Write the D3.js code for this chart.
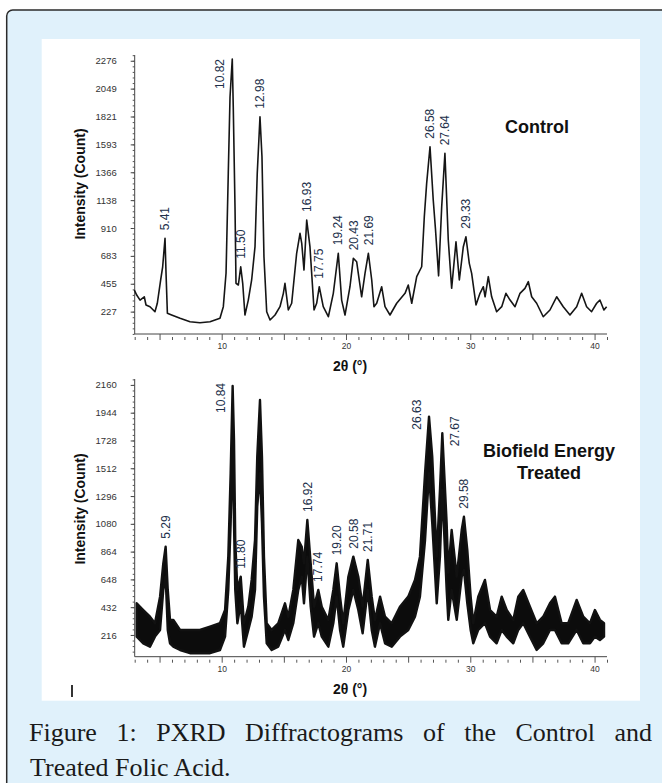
<!DOCTYPE html>
<html>
<head>
<meta charset="utf-8">
<script src="https://cdn.jsdelivr.net/npm/d3@7"></script>
<style>
body { margin: 0; background: #fff; }
svg { display: block; }
.tick text { font-family: "Liberation Sans", Arial, sans-serif; fill: #333; }
</style>
</head>
<body>
<script>
var width = 662,
    height = 783

// tick labels as printed on the figure
var controlTickLabels = ['227', '455', '683', '910', '1138', '1366', '1593', '1821', '2049', '2276']
var treatedTickLabels = ['216', '432', '648', '864', '1080', '1296', '1512', '1728', '1944', '2160']
var xTickValues = [10, 20, 30, 40]

// control pattern (2theta, counts)
var controlAngle = [2.97, 3.16, 3.43, 3.77, 3.91, 4.23, 4.63, 4.82, 5.09, 5.25, 5.44, 5.52, 5.63, 5.97, 6.65, 7.45, 8.25, 9.06, 9.86, 10.13,
    10.35, 10.53, 10.67, 10.85, 10.93, 11.07, 11.15, 11.34, 11.53, 11.69, 11.87, 12.14, 12.41, 12.68, 12.86, 13.08, 13.24, 13.40, 13.62, 13.89,
    14.29, 14.69, 14.96, 15.09, 15.36, 15.63, 16.03, 16.30, 16.44, 16.62, 16.84, 17.10, 17.43, 17.64, 17.85, 18.17, 18.58, 18.98, 19.38, 19.65,
    19.92, 20.32, 20.59, 20.86, 20.99, 21.26, 21.53, 21.80, 22.07, 22.25, 22.47, 22.87, 23.14, 23.54, 24.08, 24.75, 25.01, 25.29, 25.69, 26.09,
    26.30, 26.49, 26.76, 27.02, 27.20, 27.45, 27.70, 27.96, 28.23, 28.50, 28.85, 29.12, 29.44, 29.65, 29.92, 30.11, 30.46, 30.78, 31.05, 31.19,
    31.45, 31.72, 32.12, 32.53, 32.87, 33.20, 33.60, 34.00, 34.40, 34.67, 34.94, 35.34, 35.87, 36.41, 36.95, 37.48, 38.02, 38.56, 38.96, 39.36,
    39.76, 40.17, 40.43, 40.75, 40.97]
var controlCount = [404, 363, 322, 349, 282, 268, 227, 296, 486, 594, 826, 543, 214, 200, 173, 145, 137, 145, 173, 268,
    543, 1359, 1982, 2290, 1900, 1084, 459, 445, 594, 459, 200, 322, 486, 758, 1357, 1819, 1492, 676, 227, 159,
    200, 268, 377, 459, 241, 296, 704, 867, 785, 567, 976, 758, 241, 296, 431, 268, 186, 377, 704, 322,
    200, 431, 663, 635, 540, 349, 540, 704, 486, 268, 296, 431, 268, 200, 296, 377, 445, 296, 513, 594,
    1000, 1275, 1574, 1139, 900, 520, 1084, 1520, 812, 418, 798, 486, 758, 839, 622, 540, 282, 377, 431, 349,
    513, 349, 227, 268, 377, 322, 268, 377, 418, 472, 349, 296, 186, 241, 349, 268, 200, 268, 377, 268,
    227, 296, 322, 241, 268]

// treated pattern is a thick noisy band: lower and upper edge
var treatedAngle = [3.16, 3.69, 4.23, 4.63, 5.04, 5.30, 5.49, 5.66, 5.84, 6.11, 6.65, 7.45, 8.25, 9.06, 9.86, 10.27, 10.53, 10.72, 10.88, 10.99,
    11.09, 11.26, 11.53, 11.79, 12.14, 12.41, 12.68, 12.86, 13.08, 13.24, 13.40, 13.62, 14.02, 14.55, 15.09, 15.36, 15.76, 16.16, 16.44, 16.62,
    16.89, 17.16, 17.43, 17.77, 18.05, 18.58, 18.98, 19.25, 19.52, 19.78, 20.19, 20.59, 20.99, 21.34, 21.75, 22.07, 22.33, 22.74, 23.14, 23.68,
    24.34, 25.01, 25.55, 25.95, 26.36, 26.68, 26.94, 27.30, 27.56, 27.75, 28.10, 28.23, 28.50, 28.91, 29.31, 29.49, 29.76, 30.03, 30.24, 30.64,
    31.18, 31.59, 32.12, 32.53, 32.93, 33.46, 33.86, 34.26, 34.80, 35.34, 35.87, 36.41, 36.81, 37.35, 37.88, 38.56, 39.09, 39.63, 40.03, 40.43,
    40.76]
var treatedLow = [203, 151, 125, 203, 255, 566, 669, 255, 151, 125, 99, 74, 74, 74, 99, 203, 566, 1084, 1732, 1084,
    566, 307, 462, 125, 255, 358, 566, 1213, 1473, 1084, 514, 151, 99, 125, 255, 177, 307, 566, 669, 462,
    825, 436, 203, 307, 203, 125, 307, 514, 255, 125, 410, 566, 410, 229, 566, 255, 125, 307, 151, 125,
    203, 255, 358, 514, 954, 1473, 1084, 462, 825, 1343, 566, 333, 566, 333, 669, 721, 462, 255, 151, 255,
    307, 203, 151, 255, 203, 151, 255, 307, 203, 99, 151, 255, 255, 151, 151, 255, 151, 151, 203, 177,
    203]
var treatedHigh = [462, 410, 358, 307, 514, 773, 902, 566, 333, 333, 255, 255, 255, 281, 307, 410, 825, 1473, 2151, 1732,
    954, 566, 669, 307, 436, 644, 954, 1602, 2043, 1602, 825, 307, 255, 307, 462, 358, 566, 954, 902, 773,
    1110, 773, 436, 566, 436, 333, 566, 773, 514, 307, 669, 825, 669, 436, 799, 514, 333, 514, 358, 307,
    436, 514, 644, 825, 1473, 1913, 1602, 825, 1343, 1784, 1084, 700, 1032, 669, 1032, 1135, 877, 514, 307, 514,
    644, 410, 358, 514, 410, 333, 514, 566, 436, 307, 358, 462, 514, 307, 307, 488, 358, 307, 410, 333,
    307]

// peak annotations
var controlPeaks = ['5.41', '10.82', '11.50', '12.98', '16.93', '17.75', '19.24', '20.43', '21.69', '26.58', '27.64', '29.33']
var treatedPeaks = ['5.29', '10.84', '11.80', '16.92', '17.74', '19.20', '20.58', '21.71', '26.63', '27.67', '29.58']

var sansFont = '"Liberation Sans", Arial, sans-serif'

var svg = d3.select('body').append('svg')
    .attr('width', width)
    .attr('height', height)

// page frame
svg.append('rect')
    .attr('x', 6.7).attr('y', 10)
    .attr('width', 720).attr('height', 820)
    .attr('rx', 6)
    .style('fill', '#e0f1fb')
    .style('stroke', '#2b2b2b')
    .style('stroke-width', 1.5)

svg.append('rect')
    .attr('x', 41.7).attr('y', 39)
    .attr('width', 598.3).attr('height', 661.7)
    .style('fill', '#fff')

var x = d3.scaleLinear()
    .domain([3, 41])
    .range([134.7, 607])

var panels = [
    {top: 55, bottom: 334, domain: [45, 2323], step: 227.6, labels: controlTickLabels, yTitle: 184},
    {top: 379, bottom: 656.7, domain: [47, 2206], step: 216, labels: treatedTickLabels, yTitle: 509}
]

panels.forEach(function(p) {
    p.y = d3.scaleLinear().domain(p.domain).range([p.bottom, p.top])
    drawAxes(p)
})

// control: thin line
var control = controlAngle.map(function(a, i) { return {a: a, c: controlCount[i]} })
var yc = panels[0].y

svg.append('path')
    .datum(control)
    .attr('d', d3.line().x(function(d) { return x(d.a) }).y(function(d) { return yc(d.c) }))
    .style('fill', 'none')
    .style('stroke', '#151515')
    .style('stroke-width', 1.6)
    .style('stroke-linejoin', 'round')

// treated: noisy band
var treated = treatedAngle.map(function(a, i) { return {a: a, lo: treatedLow[i], c: treatedHigh[i]} })
var yt = panels[1].y

svg.append('path')
    .datum(treated)
    .attr('d', d3.area()
        .x(function(d) { return x(d.a) })
        .y0(function(d) { return yt(d.lo) })
        .y1(function(d) { return yt(d.c) }))
    .style('fill', '#0c0c0c')
    .style('stroke', '#111')
    .style('stroke-width', 2.4)
    .style('stroke-linejoin', 'round')

// labels that sit beside the peak instead of above it
var sides = {'10.82': 'left', '10.84': 'left', '26.63': 'left', '27.67': 'right'}

labelPeaks(controlPeaks, control, panels[0])
labelPeaks(treatedPeaks, treated, panels[1])

// sample names
svg.append('text')
    .attr('x', 537).attr('y', 133)
    .attr('text-anchor', 'middle')
    .style('font', 'bold 18px ' + sansFont)
    .style('fill', '#111')
    .text('Control')

svg.append('text')
    .attr('x', 549).attr('y', 456.5)
    .attr('text-anchor', 'middle')
    .style('font', 'bold 18px ' + sansFont)
    .style('fill', '#111')
    .text('Biofield Energy')

svg.append('text')
    .attr('x', 549).attr('y', 478.5)
    .attr('text-anchor', 'middle')
    .style('font', 'bold 18px ' + sansFont)
    .style('fill', '#111')
    .text('Treated')

// stray mark at the bottom left of the figure
svg.append('line')
    .attr('x1', 72).attr('x2', 72)
    .attr('y1', 685).attr('y2', 697)
    .style('stroke', '#000')
    .style('stroke-width', 1.6)

// caption
justifyLine(['Figure', '1:', 'PXRD', 'Diffractograms', 'of', 'the', 'Control', 'and'], 29, 652, 741)
justifyLine(['Treated Folic Acid.'], 30, null, 776)

function drawAxes(p) {
    var g = svg.append('g')

    // y axis, major and minor ticks
    var yAxis = d3.axisLeft(p.y)
        .tickValues(d3.range(1, 11).map(function(i) { return i * p.step }))
        .tickFormat(function(d, i) { return p.labels[i] })
        .tickSize(4)
        .tickPadding(14)

    g.append('g')
        .attr('transform', 'translate(' + x.range()[0] + ',0)')
        .call(yAxis)
        .call(function(s) {
            s.select('.domain').attr('d', 'M0,' + p.top + 'V' + p.bottom).style('stroke', '#444')
            s.selectAll('.tick line').style('stroke', '#444')
            s.selectAll('.tick text').style('font-size', '9.5px')
        })

    var minorY = d3.range(1, 52).map(function(i) { return i * p.step / 5 })
        .filter(function(d) { return d > p.domain[0] && d < p.domain[1] })

    g.append('g')
        .attr('transform', 'translate(' + x.range()[0] + ',0)')
        .call(d3.axisLeft(p.y).tickValues(minorY).tickSize(2).tickFormat(''))
        .call(function(s) {
            s.select('.domain').remove()
            s.selectAll('.tick line').style('stroke', '#555')
        })

    // x axis
    g.append('g')
        .attr('transform', 'translate(0,' + p.bottom + ')')
        .call(d3.axisBottom(x).tickValues(xTickValues).tickSize(0).tickPadding(9))
        .call(function(s) {
            s.select('.domain').attr('d', 'M' + x.range()[0] + ',0H' + x.range()[1]).style('stroke', '#444')
            s.selectAll('.tick text').style('font-size', '8.5px')
        })

    var minorX = d3.range(3, 42)

    g.append('g')
        .attr('transform', 'translate(0,' + p.bottom + ')')
        .call(d3.axisBottom(x).tickValues(minorX).tickSize(6).tickFormat(''))
        .call(function(s) {
            s.select('.domain').remove()
            s.selectAll('.tick line')
                .attr('y1', function(d) { return d % 5 === 0 ? 0 : 3 })
                .style('stroke', '#555')
        })

    // axis titles
    g.append('text')
        .attr('x', 350).attr('y', p.bottom + 37)
        .attr('text-anchor', 'middle')
        .style('font', 'bold 14px ' + sansFont)
        .style('fill', '#111')
        .text('2θ (°)')

    g.append('text')
        .attr('transform', 'translate(80,' + p.yTitle + ') rotate(-90)')
        .attr('text-anchor', 'middle')
        .attr('dy', '0.35em')
        .style('font', 'bold 14px ' + sansFont)
        .style('fill', '#111')
        .text('Intensity (Count)')
}

function labelPeaks(labels, pts, p) {
    labels.forEach(function(lab) {
        var a = +lab
        var near = pts.filter(function(d) { return Math.abs(d.a - a) <= 0.35 })
        var pk = d3.greatest(near, function(d) { return d.c })
        var px = x(pk.a),
            py = p.y(pk.c)
        var t = svg.append('text')
            .attr('dy', '0.35em')
            .style('font', '12px ' + sansFont)
            .style('fill', '#22304a')
            .text(lab)
        var side = sides[lab]
        if (side) {
            var lx = px + (side === 'left' ? -12 : 12)
            t.attr('text-anchor', 'end')
                .attr('transform', 'translate(' + lx + ',' + Math.max(p.top + 4, py - 17) + ') rotate(-90)')
        } else {
            t.attr('text-anchor', 'start')
                .attr('transform', 'translate(' + px + ',' + (py - 8) + ') rotate(-90)')
        }
    })
}

// spread the words of a caption line across its full width
function justifyLine(words, x0, x1, y) {
    var nodes = words.map(function(w) {
        return svg.append('text')
            .attr('y', y)
            .style('font', '26px "Liberation Serif", "DejaVu Serif", serif')
            .style('fill', '#1a1a1a')
            .text(w)
    })
    var widths = nodes.map(function(n) { return n.node().getComputedTextLength() })
    var gap = words.length > 1 && x1 ? (x1 - x0 - d3.sum(widths)) / (words.length - 1) : 0
    var cx = x0
    nodes.forEach(function(n, i) {
        n.attr('x', cx)
        cx += widths[i] + gap
    })
}
</script>
</body>
</html>
